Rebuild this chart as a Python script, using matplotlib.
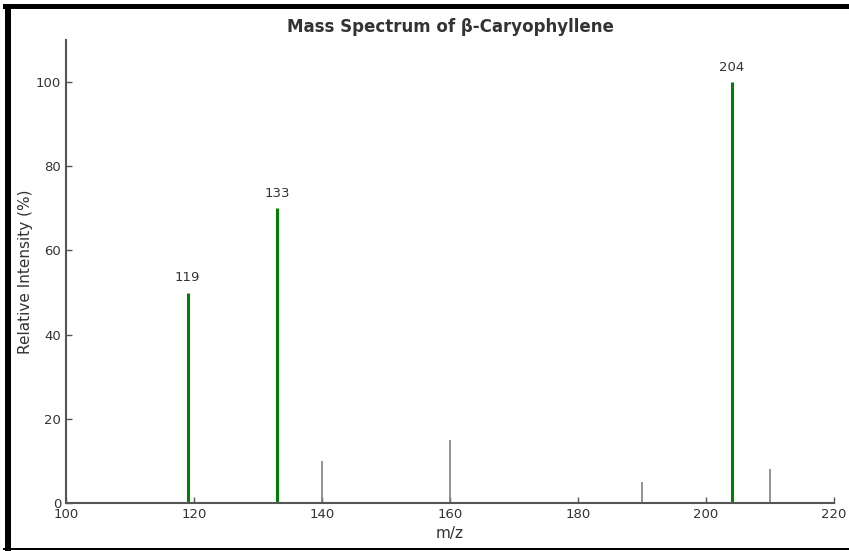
import matplotlib
matplotlib.use("Agg")
import matplotlib.pyplot as plt
from matplotlib.patches import Rectangle

# major fragment peaks (labelled) and minor peaks
major_mz = [119, 133, 204]
major_int = [50, 70, 100]
minor_mz = [140, 160, 190, 210]
minor_int = [10, 15, 5, 8]

fig = plt.figure(figsize=(8.49, 5.51), dpi=100)
ax = fig.add_axes([0.0777, 0.0871, 0.9046, 0.8403])

ax.vlines(minor_mz, 0, minor_int, color='gray', linewidth=1.2)
ax.vlines(major_mz, 0, major_int, color='green', linewidth=2.2)
for mz, inten in zip(major_mz, major_int):
    ax.text(mz, inten + 2, str(mz), ha='center', va='bottom', fontsize=9.5, color='#333333')

ax.set_xlim(100, 220)
ax.set_ylim(0, 110)
ax.set_title('Mass Spectrum of β-Caryophyllene', fontsize=12, fontweight='bold', color='#333333')
ax.set_xlabel('m/z', fontsize=11, color='#333333')
ax.set_ylabel('Relative Intensity (%)', fontsize=11, color='#333333', labelpad=2)

for s in ['top', 'right']:
    ax.spines[s].set_visible(False)
for s in ['left', 'bottom']:
    ax.spines[s].set_color('#555555')
    ax.spines[s].set_linewidth(1.5)
ax.tick_params(direction='in', colors='#555555', labelcolor='#333333', labelsize=9.5, width=1, length=4)

# dark frame: thick top and left bands, thin bottom line
W, H = 849, 551
frame = [(3, H - 9, W, 5),    # top
         (5, 0, 6, H - 4),    # left
         (3, 1, W, 2)]        # bottom
for x, y, w, h in frame:
    fig.patches.append(Rectangle((x / W, y / H), w / W, h / H, transform=fig.transFigure,
                                 facecolor='black', edgecolor='none'))

fig.savefig('out.png', dpi=100)
